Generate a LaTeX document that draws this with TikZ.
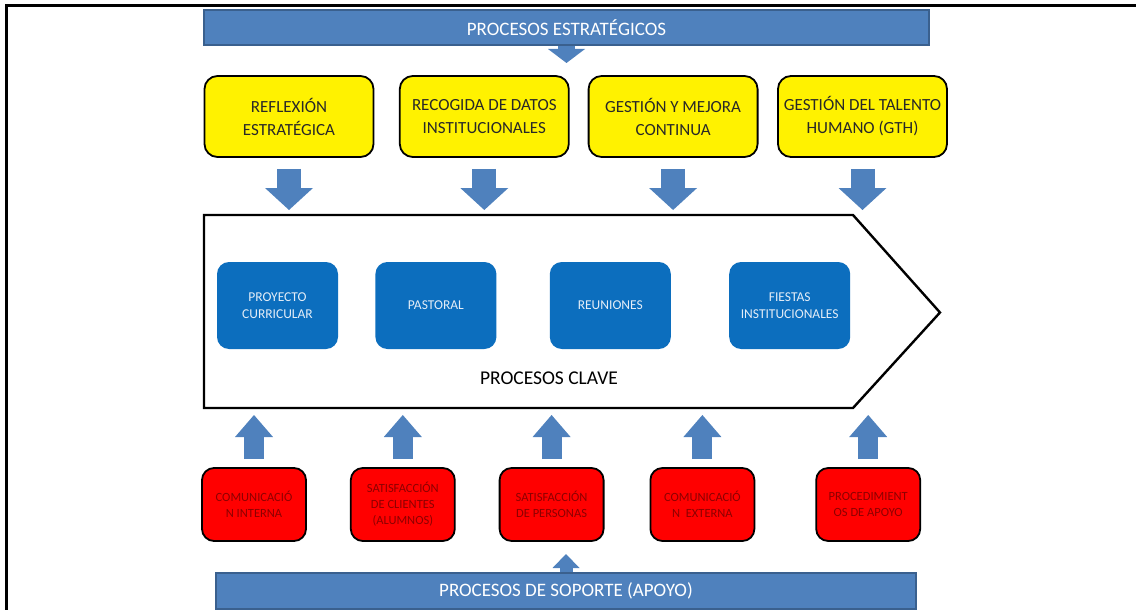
\documentclass[tikz,border=0pt]{standalone}
\usepackage{fontspec}
\setmainfont{Carlito}
\usetikzlibrary{arrows.meta,positioning}

\definecolor{barblue}{RGB}{79,129,189}
\definecolor{barline}{RGB}{58,96,142}
\definecolor{keyblue}{RGB}{12,110,190}
\definecolor{keytext}{RGB}{228,237,247}
\definecolor{redtext}{RGB}{140,0,0}
\definecolor{yeltext}{RGB}{40,40,40}

\begin{document}
\begin{tikzpicture}[
    x=1pt, y=-1pt,
    node distance=20pt,
    bar/.style={rectangle, draw=barline, line width=1.2pt, fill=barblue, text=white, minimum height=35pt, font=\fontsize{19}{22}\selectfont},
    stratbox/.style={rectangle, rounded corners=13pt, draw=black, line width=1.8pt, fill=yellow, text=yeltext, minimum width=169pt, minimum height=81pt, inner sep=2pt, align=center, font=\fontsize{17}{23}\selectfont},
    keybox/.style={rectangle, rounded corners=12pt, fill=keyblue, text=keytext, minimum width=121pt, minimum height=87pt, inner sep=2pt, align=center, font=\fontsize{13.5}{17}\selectfont},
    supbox/.style={rectangle, rounded corners=12pt, draw=black, line width=1.8pt, fill=red, text=redtext, minimum width=104pt, minimum height=73pt, inner sep=2pt, align=center, font=\fontsize{12.5}{16}\selectfont},
    keytitle/.style={text=black, font=\fontsize{19.5}{22}\selectfont},
    downarrow/.style={-{Triangle[width=48pt,length=22pt,line width=0pt]}, line width=24pt, draw=barblue, shorten <=11pt, shorten >=5pt},
    uparrow/.style={-{Triangle[width=38pt,length=22pt,line width=0pt]}, line width=20pt, draw=barblue, shorten <=8pt, shorten >=7pt},
    smallarrow/.style={-{Triangle[width=#1,length=14pt,line width=0pt]}, draw=barblue}
]
    \useasboundingbox (0,0) rectangle (1136,610);

    % Frame
    \draw[line width=3pt] (6,610) -- (6,6) -- (1136,6);

    % Strategic bar
    \node[bar, minimum width=725pt] (estrat) at (566.5,27.5) {PROCESOS ESTRATÉGICOS};

    % Strategic processes
    \node[stratbox] (reflex) at (289,116.5) {REFLEXIÓN\\ESTRATÉGICA};
    \node[stratbox, right=24.5pt of reflex] (datos) {RECOGIDA DE DATOS\\INSTITUCIONALES};
    \node[stratbox, right=18pt of datos] (mejora) {GESTIÓN Y MEJORA\\CONTINUA};
    \node[stratbox, right=18.6pt of mejora] (talento) {GESTIÓN DEL TALENTO\\HUMANO (GTH)};

    % Key processes arrow
    \draw[line width=2.4pt, fill=white] (204,215) coordinate (ktop) -- (853,215) -- (940,312.5) -- (853,408) -- (204,408) coordinate (kbot) -- cycle;

    % Key processes
    \node[keybox] (proyecto) at (277.5,305.5) {PROYECTO\\CURRICULAR};
    \node[keybox, right=37pt of proyecto] (pastoral) {PASTORAL};
    \node[keybox, right=53pt of pastoral] (reuniones) {REUNIONES};
    \node[keybox, right=58pt of reuniones] (fiestas) {FIESTAS\\INSTITUCIONALES};
    \node[keytitle] (clave) at (549,378) {PROCESOS CLAVE};

    % Support processes
    \node[supbox] (comint) at (254,504.5) {COMUNICACIÓ\\N INTERNA};
    \node[supbox, right=43pt of comint] (clientes) {SATISFACCIÓN\\DE CLIENTES\\(ALUMNOS)};
    \node[supbox, right=43pt of clientes] (personas) {SATISFACCIÓN\\DE PERSONAS};
    \node[supbox, right=45pt of personas] (comext) {COMUNICACIÓ\\N~~EXTERNA};
    \node[supbox, right=60pt of comext] (proced) {PROCEDIMIENT\\OS DE APOYO};

    % Support bar
    \node[bar, minimum width=700pt, minimum height=36pt] (soporte) at (566,591) {PROCESOS DE SOPORTE (APOYO)};

    % Arrows
    \coordinate (topend) at (566.5,63);
    \coordinate (botend) at (566,554);
    \draw[smallarrow=37pt, line width=17pt] (estrat.south) -- (topend);
    \draw[smallarrow=27pt, line width=13pt] (soporte.north) -- (botend);

    \draw[downarrow] (reflex.south) -- (reflex.south |- ktop);
    \draw[downarrow] (datos.south) -- (datos.south |- ktop);
    \draw[downarrow] (mejora.south) -- (mejora.south |- ktop);
    \draw[downarrow] (talento.south) -- (talento.south |- ktop);

    \draw[uparrow] (comint.north) -- (comint.north |- kbot);
    \draw[uparrow] (clientes.north) -- (clientes.north |- kbot);
    \draw[uparrow] (personas.north) -- (personas.north |- kbot);
    \draw[uparrow] (comext.north) -- (comext.north |- kbot);
    \draw[uparrow] (proced.north) -- (proced.north |- kbot);

\end{tikzpicture}
\end{document}
